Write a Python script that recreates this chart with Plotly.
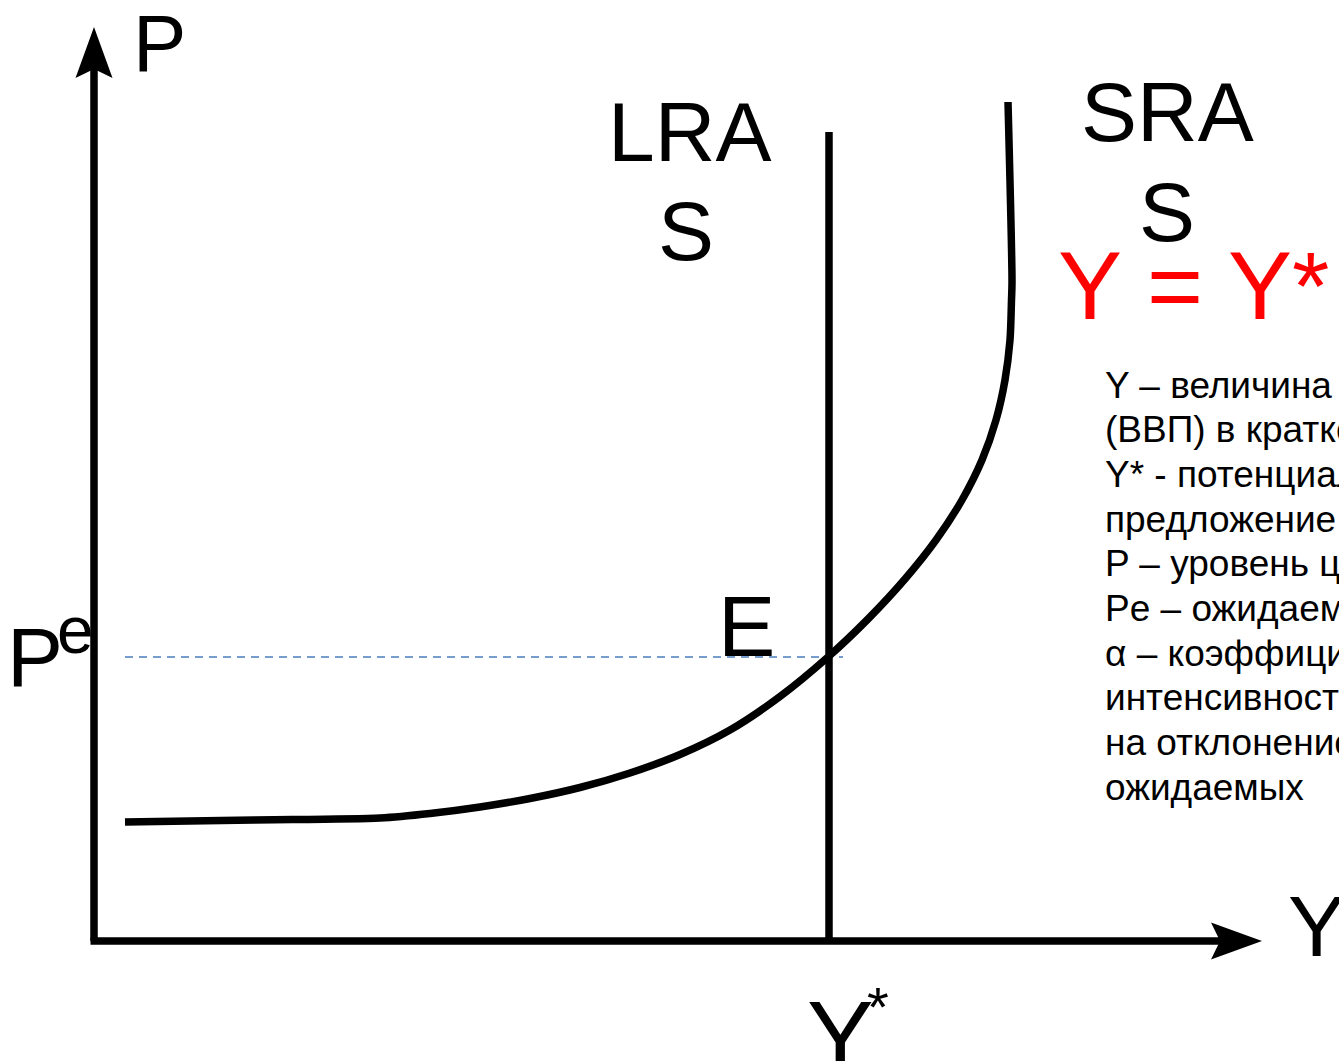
import plotly.graph_objects as go

# ---- data (output Y, price P) in diagram units, origin at axes corner ----
sras_y = [31, 160, 286, 336, 386, 436, 486, 536, 586, 636, 686, 734,
          774, 811, 842, 868, 888, 902, 911, 916, 917.5, 918, 914]
sras_p = [119, 121, 123, 127.5, 134, 142.5, 153.5, 168, 186.5, 211, 244.5, 284,
          322, 362, 401, 441, 481, 521, 561, 601, 641, 659, 839]
y_star = 735          # LRAS position (potential output)
lras_top = 809
p_e = 284             # expected price level
pe_line_start = 31
pe_line_end = 749

legend_lines = [
    "Y – величина совокупного предложения",
    "(ВВП) в краткосрочном периоде",
    "Y* - потенциальный ВВП (совокупное",
    "предложение в долгосрочном периоде)",
    "P – уровень цен",
    "Pe – ожидаемый уровень цен",
    "α – коэффициент, характеризующий",
    "интенсивность реакции предложения",
    "на отклонение фактических цен от",
    "ожидаемых",
]

# axis extents (diagram units)
x_axis_tip = 1168
y_axis_tip = 914

FONT = "Liberation Sans, Arial, sans-serif"

fig = go.Figure()

# dashed Pe line
fig.add_trace(go.Scatter(x=[pe_line_start, pe_line_end], y=[p_e, p_e], mode="lines",
                         line=dict(color="#4a7ebb", width=1.6, dash="8px,6px"),
                         hoverinfo="skip"))
# LRAS
fig.add_trace(go.Scatter(x=[y_star, y_star], y=[0, lras_top], mode="lines",
                         line=dict(color="black", width=7.5), hoverinfo="skip"))
# SRAS
fig.add_trace(go.Scatter(x=sras_y, y=sras_p, mode="lines",
                         line=dict(color="black", width=7.5, shape="spline", smoothing=0.8),
                         hoverinfo="skip"))

# axes lines
shapes = [
    dict(type="line", x0=0, y0=0, x1=0, y1=y_axis_tip - 40, line=dict(color="black", width=7.5)),
    dict(type="line", x0=-3.5, y0=0, x1=x_axis_tip - 40, y1=0, line=dict(color="black", width=7.5)),
]
# arrowheads (stealth style)
hl, hw, notch = 51, 18.5, 42
shapes.append(dict(type="path", fillcolor="black", line=dict(width=0),
                   path=f"M 0 {y_axis_tip} L {hw} {y_axis_tip-hl} L 0 {y_axis_tip-notch} L {-hw} {y_axis_tip-hl} Z"))
shapes.append(dict(type="path", fillcolor="black", line=dict(width=0),
                   path=f"M {x_axis_tip} 0 L {x_axis_tip-hl} {hw} L {x_axis_tip-notch} 0 L {x_axis_tip-hl} {-hw} Z"))

def txt(x, y, s, size, color="black", xanchor="center", align="center"):
    return dict(x=x, y=y, xref="x", yref="y", text=s, showarrow=False,
                xanchor=xanchor, yanchor="middle", align=align,
                font=dict(family=FONT, size=size, color=color))

annotations = [
    txt(65, 897.5, "P", 80),
    txt(595, 809, "LRA", 84),
    txt(592, 710, "S", 84),
    txt(1073, 829, "SRA", 84),
    txt(1073, 729, "S", 84),
    txt(1099, 656, "Y = Y*", 96, color="#ff0000"),
    txt(652.5, 315, "E", 86),
    txt(-59, 284, "P", 84),
    txt(-19, 311, "e", 66),
    txt(746, -95, "Y", 100),
    txt(784, -65, "*", 56),
    txt(1222, 15, "Y", 86),
]

legend_top = 556      # centre of first line (diagram units)
legend_pitch = 44.7
for i, line in enumerate(legend_lines):
    annotations.append(txt(1009, legend_top - i * legend_pitch, line, 37,
                           xanchor="left", align="left"))

fig.update_layout(
    width=1339, height=1061,
    margin=dict(l=0, r=0, t=0, b=0),
    paper_bgcolor="white", plot_bgcolor="white",
    showlegend=False,
    xaxis=dict(range=[-94, 1245], visible=False, fixedrange=True),
    yaxis=dict(range=[-120, 941], visible=False, fixedrange=True),
    shapes=shapes,
    annotations=annotations,
)

fig.write_html("out.html", config={"displayModeBar": False},
               post_script="document.body.style.margin='0';")
